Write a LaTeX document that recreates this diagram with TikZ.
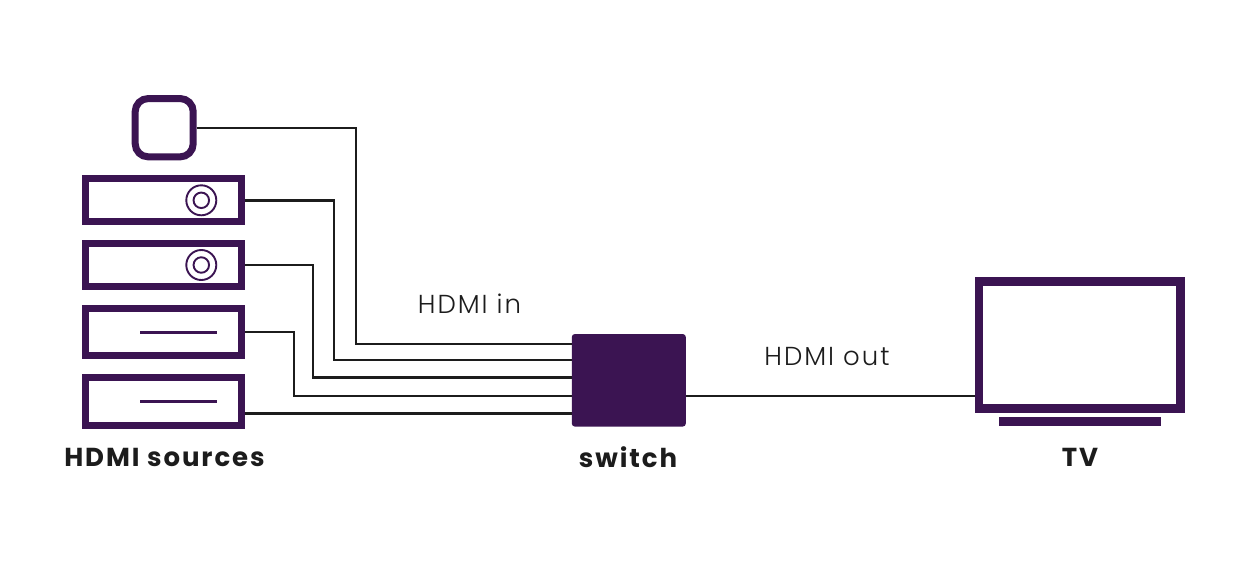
\documentclass[tikz,border=0pt]{standalone}
\usepackage{fontspec}
\newfontfamily\lblbold[LetterSpace=7.5]{Poppins Bold}
\newfontfamily\lbllight[LetterSpace=7.5]{Poppins Light}
\usetikzlibrary{calc}
\definecolor{plum}{HTML}{3B1452}
\definecolor{ink}{HTML}{1C1C1C}
\tikzset{
  device/.style={draw=plum,line width=7pt,fill=white,inner sep=0pt,anchor=center},
  wire/.style={draw=ink,line width=2.4pt,line join=miter},
  dial/.style={draw=plum,line width=1.9pt,circle,inner sep=0pt},
  slot/.style={draw=plum,line width=3pt},
  head/.style={font=\lblbold\fontsize{26}{30}\selectfont,text=ink,inner sep=0pt},
  note/.style={font=\lbllight\fontsize{26}{30}\selectfont,text=ink,inner sep=0pt}
}
\begin{document}
\begin{tikzpicture}[x=1pt,y=-1pt]
\useasboundingbox (0,0) rectangle (1255,560);
\fill[white] (0,0) rectangle (1255,560);
% wire junctions
\coordinate (j1) at (355.7,127.7);
\coordinate (j2) at (333.7,200.3);
\coordinate (j3) at (312.7,265);
\coordinate (j4) at (294,332);
\coordinate (p1) at (572,344.2);
\coordinate (p2) at (572,360);
\coordinate (p3) at (572,377.5);
\coordinate (p4) at (572,395.7);
\coordinate (p5) at (572,413.3);
\coordinate (q5) at (245,413.3);
\coordinate (o1) at (686,395.7);
\coordinate (o2) at (975,395.7);
% devices
\node[device,rounded corners=13pt,minimum width=58pt,minimum height=58.3pt] (src1) at (164.2,127.7) {};
\node[device,minimum width=156.6pt,minimum height=43pt] (src2) at (163.5,200.3) {};
\node[device,minimum width=156.6pt,minimum height=43pt] (src3) at (163.5,265) {};
\node[device,minimum width=156.6pt,minimum height=47.6pt] (src4) at (163.5,332) {};
\node[device,minimum width=156.6pt,minimum height=47.7pt] (src5) at (163.5,401.3) {};
\node[dial,minimum size=30pt] (d1o) at (201.3,200.3) {};
\node[dial,minimum size=15.5pt] (d1i) at (201.3,200.3) {};
\node[dial,minimum size=30pt] (d2o) at (201.3,265) {};
\node[dial,minimum size=15.5pt] (d2i) at (201.3,265) {};
\coordinate (s4a) at (140,332); \coordinate (s4b) at (217.3,332);
\coordinate (s5a) at (140,401.3); \coordinate (s5b) at (217.3,401.3);
\draw[slot] (s4a) -- (s4b);
\draw[slot] (s5a) -- (s5b);
% wires
\draw[wire] (src1.east) -- (j1) -- (j1 |- p1) -- (p1);
\draw[wire] (src2.east) -- (j2) -- (j2 |- p2) -- (p2);
\draw[wire] (src3.east) -- (j3) -- (j3 |- p3) -- (p3);
\draw[wire] (src4.east) -- (j4) -- (j4 |- p4) -- (p4);
\draw[wire] (q5) -- (p5);
\draw[wire] (o1) -- (o2);
% switch
\node[fill=plum,rounded corners=3pt,minimum width=114pt,minimum height=92.5pt,inner sep=0pt,outer sep=0pt] (sw) at (628.8,380.3) {};
% TV
\node[device,line width=8.7pt,minimum width=201.6pt,minimum height=126.7pt] (tv) at (1079.8,345) {};
\node[fill=plum,minimum width=162.4pt,minimum height=9pt,inner sep=0pt,outer sep=0pt] (stand) at (1079.8,421.8) {};
% labels
\node[head] (l1) at (164.5,457) {HDMI sources};
\node[head] (l2) at (628,457) {switch};
\node[head] (l3) at (1080,457) {TV};
\node[note] (l4) at (469.5,304) {HDMI in};
\node[note] (l5) at (827,357) {HDMI out};
\end{tikzpicture}
\end{document}
